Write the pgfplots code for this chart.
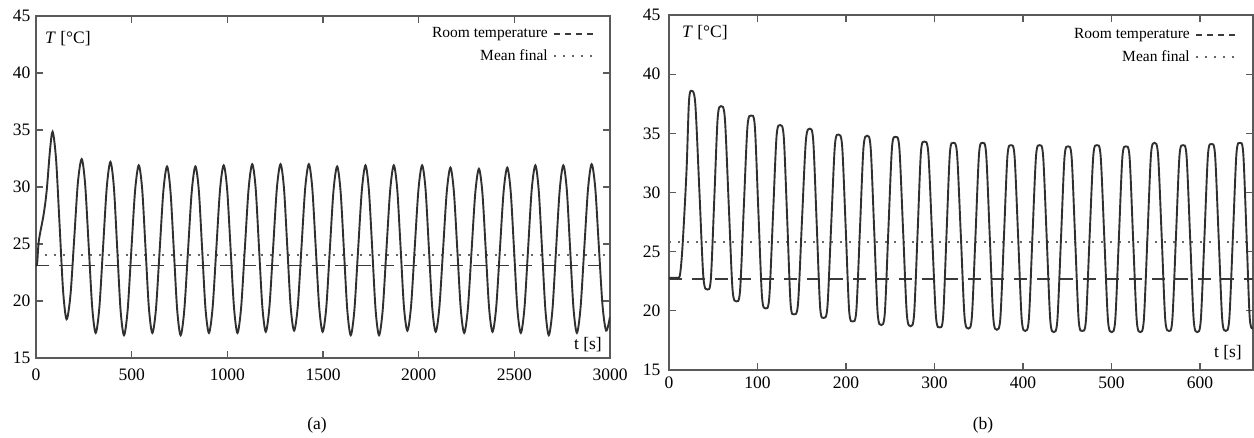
\documentclass[border=0pt]{standalone}
\usepackage{fontspec}
\setmainfont{Liberation Serif}
\usepackage{pgfplots}
\pgfplotsset{compat=1.18}

\definecolor{axgray}{HTML}{5A5A5A}
\definecolor{curve}{HTML}{303030}
\definecolor{roomc}{HTML}{3A3A3A}
\definecolor{meanc}{HTML}{666666}

\pgfplotsset{
  tplot/.style={
    scale only axis,
    anchor=south west,
    ymin=15, ymax=45, ytick={15,20,...,45},
    tick align=inside,
    tick pos=both,
    major tick length=7pt,
    axis line style={draw=axgray, line width=1.6pt},
    every tick/.style={draw=axgray, line width=1.3pt},
    tick label style={font=\fontsize{17.5}{20}\selectfont},
    /pgf/number format/assume math mode=true,
    /pgf/number format/1000 sep={},
    scaled ticks=false,
    legend plot pos=right,
    legend cell align=right,
    legend style={draw=none, fill=none, anchor=north east,
      font=\fontsize{15.5}{18}\selectfont, inner sep=0pt,
      row sep=8pt, column sep=5pt,
      nodes={inner sep=0pt, text height=11pt, text depth=3.5pt}},
  },
  roomline/.style={roomc, line width=1.5pt, dash pattern=on 13pt off 10pt,
    legend image code/.code={\draw[roomc, line width=1.5pt, dash pattern=on 6pt off 5pt] (0pt,0pt) -- (40pt,0pt);}},
  meanline/.style={meanc, line width=2pt, dash pattern=on 2pt off 7pt,
    legend image code/.code={\draw[meanc, line width=2pt, dash pattern=on 2pt off 7pt] (0pt,0pt) -- (40pt,0pt);}},
  tcurve/.style={curve, line width=1.9pt, smooth, forget plot},
}

\begin{document}
\begin{tikzpicture}
\useasboundingbox (0pt,0pt) rectangle (1254pt,437pt);

% (a)
\begin{axis}[tplot,
  at={(36pt,79pt)}, width=574pt, height=342pt,
  xmin=0, xmax=3000, xtick={0,500,...,3000},
  xticklabel style={yshift=-7.5pt},
  yticklabel style={xshift=-2pt},
  legend style={at={(1,1)}, xshift=-15pt, yshift=-10.5pt},
]
\addplot[roomline] coordinates {(0,23.1) (3000,23.1)};
\addlegendentry{Room temperature}
\addplot[meanline] coordinates {(0,24.0) (3000,24.0)};
\addlegendentry{Mean final}
\addplot[tcurve] coordinates {
(0,23.2) (6,23.3) (15,25.3) (40,27.6) (56,29.7) (73,33.2) (87,34.85)
(105,32.4) (123.5,26.6) (142,20.8) (160,18.4)
(180,20.5) (199.5,25.4) (219,30.4) (239,32.45)
(257,30.2) (275.5,24.8) (294,19.4) (312,17.2)
(331,19.4) (350.5,24.7) (370,30.0) (389,32.2)
(407,30.0) (424.5,24.6) (442,19.2) (460,17.0)
(479,19.2) (498.5,24.5) (518,29.7) (537,31.9)
(555,29.8) (572.5,24.6) (590,19.4) (608,17.2)
(627,19.3) (646.5,24.5) (666,29.7) (685,31.8)
(703,29.6) (720.5,24.4) (738,19.2) (756,17.0)
(775,19.2) (794.5,24.4) (814,29.6) (833,31.8)
(851,29.7) (868.5,24.5) (886,19.3) (904,17.2)
(923,19.4) (942.5,24.6) (962,29.8) (981,31.9)
(999,29.8) (1017,24.6) (1035,19.4) (1053,17.2)
(1072,19.4) (1091.5,24.6) (1111,29.8) (1130,32.0)
(1148,29.9) (1165.5,24.7) (1183,19.5) (1201,17.3)
(1220,19.5) (1239.5,24.7) (1259,29.9) (1278,32.0)
(1296,29.9) (1313.5,24.7) (1331,19.5) (1349,17.4)
(1368,19.5) (1387.5,24.7) (1407,29.9) (1426,32.0)
(1444,29.9) (1462,24.7) (1480,19.5) (1498,17.3)
(1517,19.4) (1536,24.6) (1555,29.7) (1574,31.8)
(1592,29.6) (1609.5,24.4) (1627,19.2) (1645,17.0)
(1664,19.2) (1683.5,24.5) (1703,29.7) (1722,31.9)
(1740,29.7) (1757.5,24.5) (1775,19.2) (1793,17.0)
(1812,19.2) (1831.5,24.5) (1851,29.7) (1870,31.9)
(1888,29.8) (1905.5,24.7) (1923,19.5) (1941,17.4)
(1960,19.5) (1979.5,24.7) (1999,29.8) (2018,31.9)
(2036,29.8) (2053.5,24.6) (2071,19.4) (2089,17.3)
(2108,19.4) (2127.5,24.5) (2147,29.6) (2166,31.7)
(2184,29.6) (2202,24.5) (2220,19.3) (2238,17.2)
(2257,19.3) (2276.5,24.4) (2296,29.5) (2315,31.6)
(2333,29.5) (2350.5,24.5) (2368,19.4) (2386,17.3)
(2405,19.4) (2424.5,24.5) (2444,29.6) (2463,31.7)
(2481,29.6) (2498.5,24.5) (2516,19.3) (2534,17.2)
(2553,19.4) (2572,24.6) (2591,29.8) (2610,31.9)
(2627.5,29.7) (2645,24.5) (2662.5,19.2) (2680,17.0)
(2699,19.2) (2718,24.5) (2737,29.7) (2756,31.9)
(2774,29.8) (2791.5,24.6) (2809,19.4) (2827,17.2)
(2846,19.4) (2865.5,24.6) (2885,29.8) (2904,32.0)
(2923,29.9) (2942,24.7) (2961,19.6) (2980,17.4)
(3000,18.6)
};
\end{axis}

% (b)
\begin{axis}[tplot,
  at={(669pt,67pt)}, width=584pt, height=355pt,
  xmin=0, xmax=660, xtick={0,100,...,600},
  xticklabel style={yshift=-3.5pt},
  yticklabel style={xshift=-5pt},
  legend style={at={(1,1)}, xshift=-16pt, yshift=-12.5pt},
]
\addplot[roomline] coordinates {(0,22.7) (660,22.7)};
\addlegendentry{Room temperature}
\addplot[meanline] coordinates {(0,25.85) (660,25.85)};
\addlegendentry{Mean final}
\addplot[tcurve] coordinates {
(0,22.8) (8,22.8) (12,22.9) (14.5,24.6) (17,27.7) (20,32.2) (22.5,37.6) (25,38.6)
(29.6,37.6) (34.3,30.2) (38.9,22.8) (43.5,21.8)
(47.3,22.7) (51.2,29.5) (55.0,36.3) (58.8,37.3)
(63.1,36.3) (67.5,29.0) (71.8,21.8) (76.1,20.8)
(80.3,21.7) (84.5,28.7) (88.7,35.6) (92.9,36.5)
(97.0,35.6) (101.0,28.4) (105.1,21.2) (109.1,20.2)
(113.3,21.1) (117.5,28.0) (121.6,34.8) (125.8,35.7)
(129.7,34.7) (133.6,27.7) (137.4,20.6) (141.3,19.7)
(145.8,20.6) (150.2,27.5) (154.7,34.4) (159.1,35.4)
(163.0,34.4) (166.9,27.4) (170.8,20.3) (174.7,19.4)
(179.0,20.3) (183.2,27.1) (187.5,34.0) (191.7,34.9)
(195.7,33.9) (199.7,27.0) (203.6,20.0) (207.6,19.1)
(211.7,20.0) (215.8,26.9) (219.8,33.8) (223.9,34.8)
(227.9,33.8) (231.9,26.8) (235.8,19.8) (239.8,18.8)
(243.9,19.8) (247.9,26.8) (252.0,33.8) (256.0,34.7)
(260.3,33.8) (264.6,26.7) (268.8,19.7) (273.1,18.7)
(277.0,19.7) (280.9,26.5) (284.7,33.4) (288.6,34.3)
(293.0,33.4) (297.3,26.5) (301.7,19.5) (306.0,18.6)
(309.8,19.5) (313.6,26.4) (317.4,33.3) (321.2,34.2)
(325.5,33.3) (329.8,26.4) (334.0,19.5) (338.3,18.5)
(342.3,19.5) (346.4,26.4) (350.4,33.3) (354.4,34.2)
(358.4,33.3) (362.5,26.3) (366.5,19.4) (370.5,18.4)
(374.5,19.4) (378.5,26.2) (382.5,33.1) (386.5,34.0)
(390.5,33.1) (394.6,26.2) (398.6,19.3) (402.6,18.3)
(406.7,19.3) (410.7,26.2) (414.8,33.1) (418.8,34.0)
(422.8,33.1) (426.9,26.1) (430.9,19.2) (434.9,18.2)
(438.9,19.2) (443.0,26.1) (447.0,33.0) (451.0,33.9)
(455.0,33.0) (459.0,26.1) (463.0,19.2) (467.0,18.3)
(471.2,19.2) (475.3,26.2) (479.5,33.1) (483.6,34.0)
(487.8,33.1) (492.0,26.1) (496.1,19.2) (500.3,18.2)
(504.3,19.2) (508.4,26.1) (512.4,33.0) (516.4,33.9)
(520.5,33.0) (524.5,26.1) (528.6,19.2) (532.6,18.2)
(536.6,19.2) (540.7,26.2) (544.7,33.2) (548.7,34.2)
(552.7,33.2) (556.8,26.3) (560.8,19.3) (564.8,18.3)
(568.8,19.2) (572.9,26.2) (576.9,33.1) (580.9,34.0)
(584.9,33.1) (589.0,26.1) (593.0,19.2) (597.0,18.2)
(601.0,19.2) (605.1,26.2) (609.1,33.2) (613.1,34.1)
(617.1,33.2) (621.2,26.2) (625.2,19.3) (629.2,18.3)
(633.2,19.3) (637.3,26.3) (641.3,33.3) (645.3,34.2)
(649.0,33.3) (652.7,26.4) (656.3,19.4) (660,18.5)
};
\end{axis}

\begin{scope}[font=\fontsize{17.5}{20}\selectfont]
\node[anchor=base west, inner sep=0pt] at (45pt,393pt) {\textit{T} [°C]};
\node[anchor=base west, inner sep=0pt] at (682pt,399.5pt) {\textit{T} [°C]};
\node[anchor=base east, inner sep=0pt] at (602pt,87.5pt) {t [s]};
\node[anchor=base east, inner sep=0pt] at (1242pt,80pt) {t [s]};
\node[anchor=base, inner sep=0pt] at (317pt,7.5pt) {(a)};
\node[anchor=base, inner sep=0pt] at (983pt,7.5pt) {(b)};
\end{scope}
\end{tikzpicture}
\end{document}
